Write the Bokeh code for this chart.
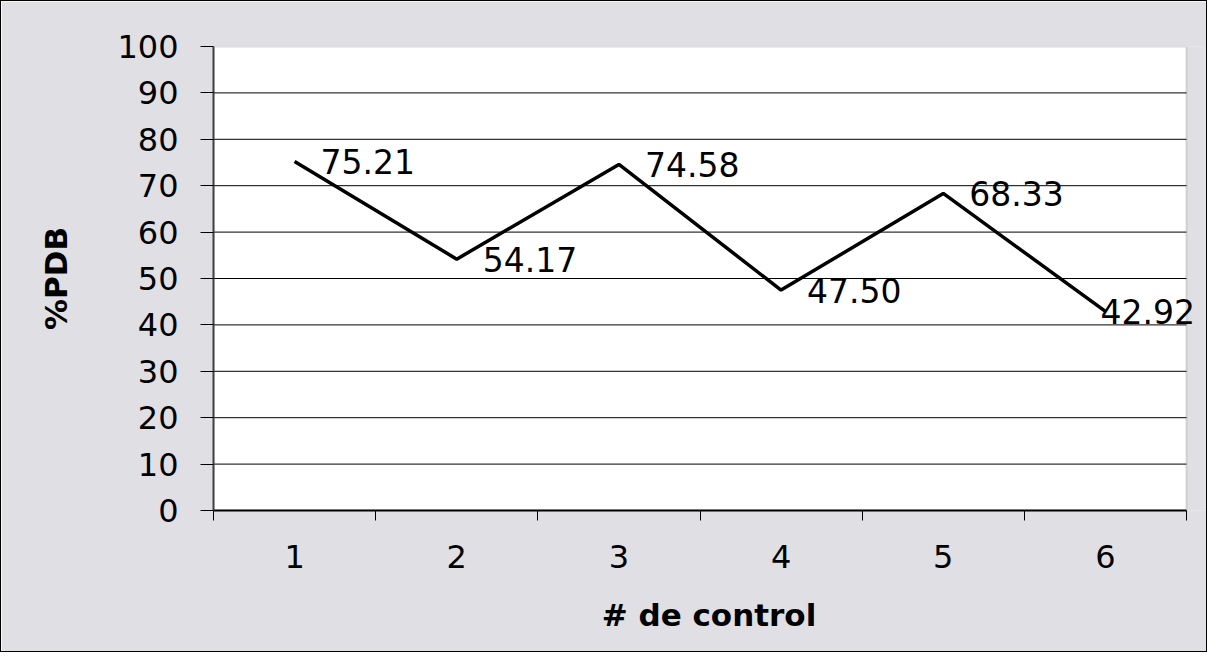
from bokeh.plotting import figure
from bokeh.models import Range1d, FixedTicker, ColumnDataSource, LabelSet, BoxAnnotation
from bokeh.core.properties import value
from bokeh.embed import file_html
from bokeh.resources import INLINE

controls = [1, 2, 3, 4, 5, 6]
pdb = [75.21, 54.17, 74.58, 47.50, 68.33, 42.92]
pdb_labels = ["75.21", "54.17", "74.58", "47.50", "68.33", "42.92"]
y_ticks = [0, 10, 20, 30, 40, 50, 60, 70, 80, 90, 100]
x_boundaries = [0.5, 1.5, 2.5, 3.5, 4.5, 5.5, 6.5]

FONT = "DejaVu Sans"
BG = "#E0DFE4"
X0, X1 = x_boundaries[0], x_boundaries[-1]
Y0, Y1 = y_ticks[0], y_ticks[-1]
PX_PER_UNIT = 973 / 6.0
EXTRA_PX = 18

p = figure(width=1207, height=652, output_backend="svg", toolbar_location=None,
           x_range=Range1d(X0, X1 + EXTRA_PX / PX_PER_UNIT), y_range=Range1d(Y0, Y1),
           min_border_left=212, min_border_right=4, min_border_top=45, min_border_bottom=143,
           background_fill_color=BG, border_fill_color=BG)
p.styles = {"border": "1px solid black"}
p.outline_line_color = None

# plot area (white) with grey frame
p.add_layout(BoxAnnotation(left=X0, right=X1, bottom=Y0, top=Y1, fill_color="white", fill_alpha=1,
                           line_color="#8a8a8a", line_width=2, level="underlay"))

p.xgrid.grid_line_color = None
p.ygrid.grid_line_color = None
grid_y = y_ticks[1:-1]
p.segment(x0=[X0] * len(grid_y), x1=[X1] * len(grid_y), y0=grid_y, y1=grid_y,
          line_color="black", line_width=1)

p.yaxis.ticker = FixedTicker(ticks=y_ticks)
p.yaxis.major_tick_out = 13
p.yaxis.major_tick_in = 0
p.yaxis.minor_tick_line_color = None
p.yaxis.major_label_standoff = 22
p.yaxis.axis_line_color = "#404040"
p.yaxis.axis_line_width = 2
p.yaxis.major_tick_line_color = "black"
p.yaxis.axis_label = "%PDB"
p.yaxis.axis_label_standoff = 40

p.xaxis.ticker = FixedTicker(ticks=controls, minor_ticks=x_boundaries)
p.xaxis.bounds = (X0, X1)
p.xaxis.major_tick_out = 0
p.xaxis.major_tick_in = 0
p.xaxis.minor_tick_out = 10
p.xaxis.minor_tick_in = 0
p.xaxis.minor_tick_line_color = "black"
p.xaxis.major_label_standoff = 24
p.xaxis.axis_line_color = "black"
p.xaxis.axis_line_width = 2
p.xaxis.axis_label = "# de control"
p.xaxis.axis_label_standoff = 26

for ax in (p.xaxis, p.yaxis):
    ax.major_label_text_font = FONT
    ax.major_label_text_font_size = "32px"
    ax.major_label_text_color = "black"
    ax.axis_label_text_font = FONT
    ax.axis_label_text_font_size = "31px"
    ax.axis_label_text_font_style = "bold"
    ax.axis_label_text_color = "black"

src = ColumnDataSource(data=dict(x=controls, y=pdb, t=pdb_labels))
p.line("x", "y", source=src, line_color="black", line_width=3.5)

src_a = ColumnDataSource(data=dict(x=controls[:-1], y=pdb[:-1], t=pdb_labels[:-1]))
src_b = ColumnDataSource(data=dict(x=controls[-1:], y=pdb[-1:], t=pdb_labels[-1:]))
for s, off in ((src_a, 26), (src_b, -5)):
    p.add_layout(LabelSet(x="x", y="y", text="t", source=s, x_offset=off,
                          text_baseline="middle", text_align="left",
                          text_font=value(FONT), text_font_size=value("33px"),
                          text_color=value("black")))

open("out.html", "w").write(file_html(p, INLINE))
